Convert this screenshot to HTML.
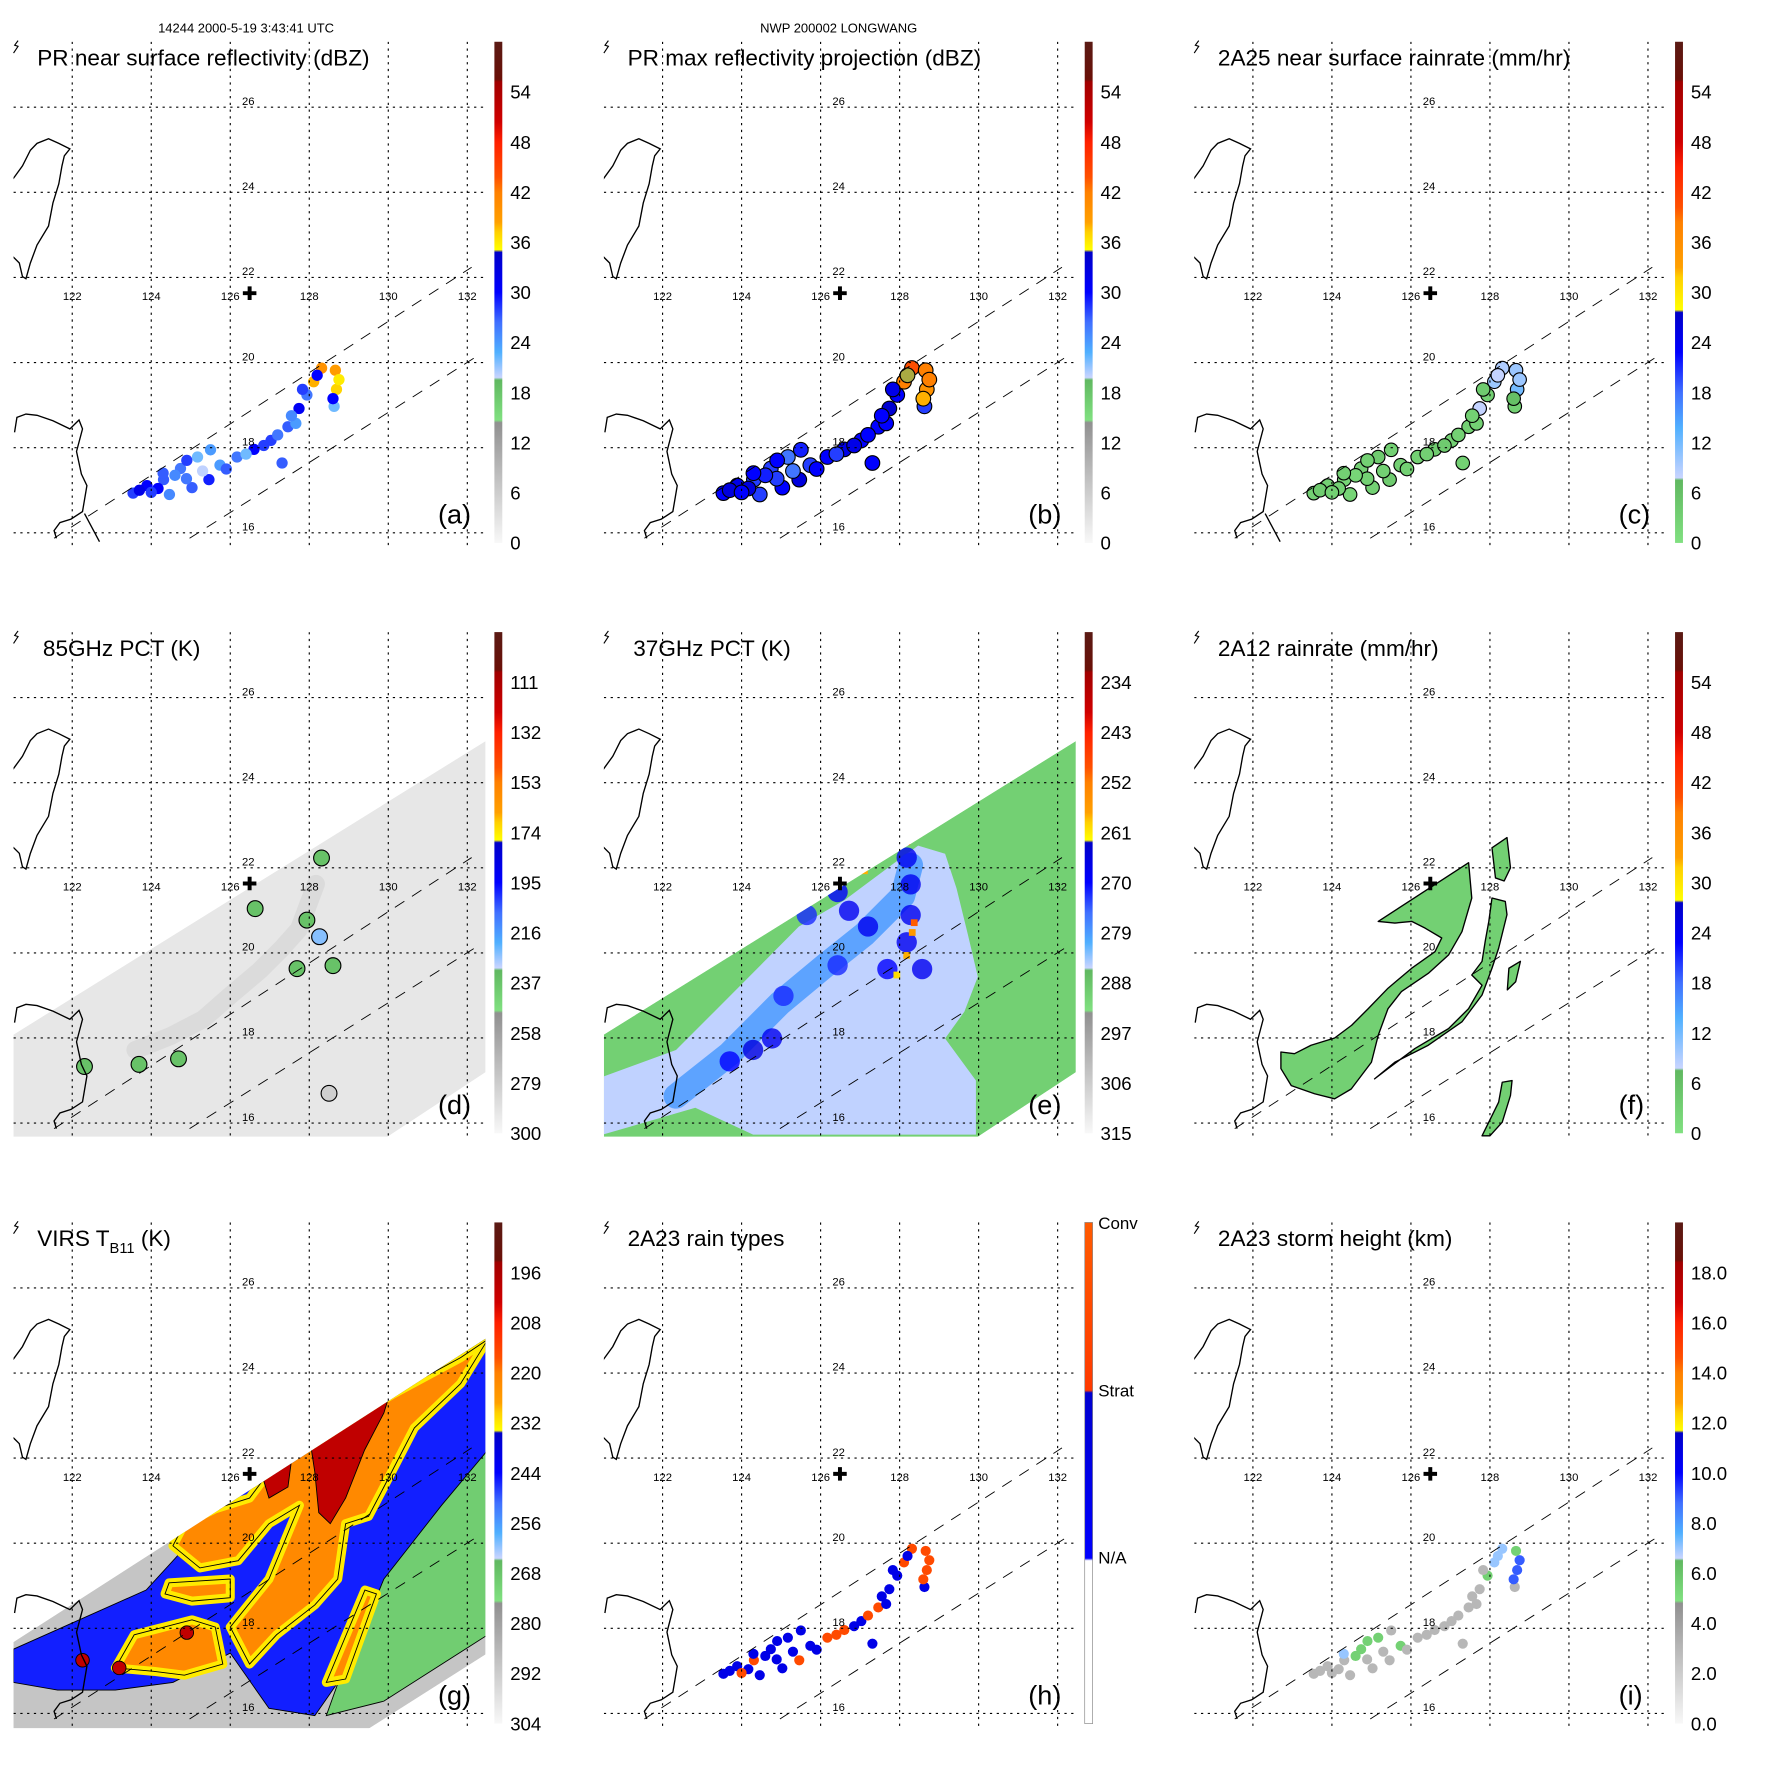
<!DOCTYPE html>
<html><head><meta charset="utf-8"><title>TRMM LONGWANG panels</title>
<style>
html,body{margin:0;padding:0;background:#fff;}
svg{display:block;font-family:"Liberation Sans",Arial,sans-serif;}
</style></head>
<body>
<svg id="fig" width="1771" height="1771" viewBox="0 0 1569 1569" xmlns="http://www.w3.org/2000/svg">
<defs id="defs"></defs>
<text x="218" y="29" font-size="11.5" text-anchor="middle">14244 2000-5-19 3:43:41 UTC</text>
<text x="743" y="29" font-size="11.5" text-anchor="middle">NWP 200002 LONGWANG</text>
</svg>
<script>
// ---------- data ----------
const bandLon=[123.54,123.89,124.31,124.74,125.17,124.46,125.03,125.46,125.74,126.17,126.60,127.03,127.46,127.74,127.94,128.11,128.31,128.66,128.69,128.63,127.83,124.17,124.89,127.66,127.31,123.70,124.00,124.60,125.30,125.90,126.40,126.85,127.20,127.55,128.20,128.75,128.60,124.9,124.3,125.5];
const bandLat=[16.93,17.11,17.25,17.51,17.78,16.90,17.06,17.25,17.59,17.78,17.96,18.17,18.49,18.92,19.24,19.55,19.87,19.82,19.37,18.97,19.37,17.04,17.27,18.57,17.64,17.00,16.95,17.35,17.45,17.50,17.85,18.05,18.30,18.75,19.70,19.60,19.15,17.7,17.4,17.95];
const aVals=[28,30,27,26,22,25,27,29,24,26,30,28,27,31,26,38,40,39,37,22,28,30,26,24,27,32,28,25,20,27,22,28,26,25,30,36,30,28,27,24];
const bVals=[30,32,28,28,26,28,30,33,28,30,32,30,30,34,30,42,44,42,40,28,32,33,28,30,30,33,30,29,26,30,28,32,30,30,35,42,38,30,30,29];
const cVals=[3,3,2,3,4,2,3,4,3,3,4,3,3,8,3,10,9,10,12,3,4,3,3,3,3,4,3,2,3,3,3,4,3,3,8,10,6,3,3,3];
const hVals=[1.5,1.5,2.5,1.5,1.5,1.5,1.5,2.5,1.5,2.5,2.5,1.5,2.5,1.5,1.5,2.5,2.5,2.5,2.5,1.5,1.5,1.5,1.5,1.5,1.5,1.5,2.5,1.5,1.5,1.5,2.5,1.5,2.5,1.5,1.5,2.5,2.5,1.5,1.5,1.5];
const iVals=[3,3,3,5.5,5.5,3,3,3,5.5,3,3,3,3,3,5.5,7,7,5.5,9,3,3,3,3,3,3,3,3,5.5,3,3,3,3,3,3,7,9,9,5.5,7,3];

const dStreakLon=[123.6,124.5,125.31,126.0,126.74,127.3,127.74,128.17];
const dStreakLat=[17.72,18.05,18.44,19.0,19.58,20.1,20.56,21.62];
const dBlobLon=[126.63,128.31,127.94,128.26,128.6,127.69,123.69,124.69,122.31,128.5];
const dBlobLat=[21.04,22.23,20.77,20.38,19.7,19.63,17.38,17.51,17.33,16.7];
const dBlobVal=[236,236,236,225,236,236,236,236,236,280];

const eLightLon=[120.49,122.34,123.31,124.48,125.45,126.62,127.79,128.47,129.15,129.44,129.73,129.98,129.64,129.15,129.93,129.93,124.29,122.83,120.49];
const eLightLat=[17.09,17.72,18.62,19.71,20.62,21.25,22.06,22.52,22.33,21.52,20.43,19.44,18.62,17.99,17.0,15.73,15.73,16.36,15.73];
const eBandLon=[122.34,123.7,124.96,126.13,127.1,128.08,128.28];
const eBandLat=[16.63,17.63,18.81,19.71,20.43,21.34,22.06];
const eBlobLon=[124.29,124.77,123.70,126.72,126.43,127.2,128.18,128.28,128.28,128.18,127.69,128.57,125.65,126.43,125.06];
const eBlobLat=[17.72,17.99,17.45,20.99,21.43,20.62,22.24,21.61,20.89,20.25,19.62,19.62,20.89,19.71,18.99];
const eBlobVal=[266,268,270,268,270,268,268,268,268,268,270,268,272,272,272];
const eHotLon=[128.18,127.11,128.37,128.32,128.18,127.93];
const eHotLat=[22.61,21.93,20.71,20.48,19.94,19.48];
const eHotVal=[250,258,250,256,258,260];

const fHookLon=[125.17,127.46,127.54,127.29,126.95,126.44,125.76,125.42,125.17,125.0,124.49,124.07,123.56,122.97,122.71,122.71,123.05,123.47,124.07,124.5,124.92,125.42,126.02,126.61,126.78,126.36,126.02,125.59];
const fHookLat=[20.74,22.12,21.29,20.5,19.95,19.52,19.09,18.69,18.06,17.43,16.8,16.57,16.69,16.88,17.28,17.67,17.63,17.83,18.0,18.3,18.69,19.17,19.64,20.03,20.35,20.58,20.74,20.7];
const fArcLon=[125.08,125.59,126.44,127.29,127.8,128.05,128.22,128.43,128.39,128.05,127.97,127.88,127.8,127.54,127.8,127.46,126.95,126.1,125.42];
const fArcLat=[17.04,17.43,17.83,18.38,19.01,19.64,20.11,20.9,21.21,21.29,20.74,20.27,19.8,19.48,19.24,18.69,18.22,17.75,17.28];
const fIsleLon=[128.05,128.43,128.52,128.36,128.14];
const fIsleLat=[22.47,22.71,22.0,21.69,21.76];
const fStripLon=[127.8,128.22,128.31,128.56,128.52,128.31,128.0];
const fStripLat=[15.7,16.49,16.96,17.0,16.65,16.02,15.7];
const fSmallLon=[128.48,128.77,128.65,128.44];
const fSmallLat=[19.64,19.8,19.32,19.13];
const fRainVal=[3,3,3,3,3];

const gGreenLon=[129.89,132.52,132.52,129.89,128.43,129.5];
const gGreenLat=[20.02,22.19,17.85,16.29,15.95,18.72];
const gBlueLon=[120.51,123.87,126.0,132.52,132.52,131.35,129.89,128.92,128.14,126.98,126.0,124.55,123.09,121.63,120.51];
const gBlueLat=[17.51,18.9,21.06,24.84,22.19,20.89,19.16,16.99,15.95,16.12,17.42,16.73,16.55,16.55,16.73];
const gO1Lon=[126.49,126.98,130.09,131.83,132.52,131.83,130.66,129.89,129.5,128.92,128.72,128.14,127.17,126.49,126.0,126.98,127.75,126.98,126.2,125.23,124.55,124.84,125.62];
const gO1Lat=[21.06,21.67,23.49,24.36,24.79,23.75,22.71,21.32,20.63,20.46,19.16,18.55,17.85,17.16,18.03,19.16,20.89,20.46,19.59,19.42,19.94,20.46,20.81];
const gO2Lon=[123.09,123.57,125.03,125.62,125.81,124.84,124.06];
const gO2Lat=[17.07,17.85,18.2,18.03,17.16,16.9,16.99];
const gO3Lon=[124.45,126.0,126.0,125.03,124.35];
const gO3Lat=[19.07,19.16,18.72,18.64,18.81];
const gO4Lon=[128.43,129.41,129.7,128.92];
const gO4Lat=[16.73,18.9,18.81,16.81];
const gR1Lon=[128.04,130.0,129.89,129.4,128.92,128.53,128.24,128.14];
const gR1Lat=[22.28,23.4,23.06,22.19,21.06,20.46,20.72,21.67];
const gR2Lon=[126.78,127.56,127.46,126.98];
const gR2Lat=[21.67,22.02,21.32,21.06];
const gSpotLon=[122.26,123.19,124.9];
const gSpotLat=[17.25,17.07,17.9];
const gLayerVal=[290,270,246,222,232,200];

const swathLon=[120.51,132.5,132.5,129.98,120.51];
const swathLatE=[18.08,25.0,17.22,15.68,15.68];
const swathGLon=[120.51,132.52,132.52,129.5,120.51];
const swathGLat=[17.68,24.84,17.42,15.64,15.64];

const taiwanLon=[120.49,120.74,120.94,121.11,121.4,121.66,121.94,121.8,121.74,121.66,121.51,121.4,121.11,120.94,120.83,120.74,120.66,120.49];
const taiwanLat=[24.30,24.62,24.99,25.15,25.26,25.15,25.02,24.86,24.62,24.2,23.75,23.21,22.76,22.34,21.97,22.02,22.34,22.5];
const luzonLon=[120.54,120.6,120.83,121.11,121.51,121.94,122.17,122.26,122.11,122.23,122.37,122.26,121.97,121.69,121.54,121.6];
const luzonLat=[18.36,18.71,18.79,18.76,18.63,18.44,18.65,18.44,17.91,17.38,17.11,16.5,16.32,16.24,16.05,15.87];
const lonTicks=[122,124,126,128,130,132];
const latTicks=[16,18,20,22,24,26];

// ---------- helpers ----------
const NS='http://www.w3.org/2000/svg';
const svg=document.getElementById('fig');
const defs=document.getElementById('defs');
function mk(tag,attrs,parent){const e=document.createElementNS(NS,tag);for(const k in attrs)e.setAttribute(k,attrs[k]);(parent||svg).appendChild(e);return e;}
const STD=[[0,'#5a1a14'],[0.075,'#6a1008'],[0.08,'#a00000'],[0.16,'#d00000'],[0.2,'#ff2000'],[0.27,'#ff5000'],[0.3,'#ff8000'],[0.36,'#ffa000'],[0.38,'#ffd000'],[0.415,'#ffff00'],[0.42,'#0000c8'],[0.5,'#0000ff'],[0.56,'#4070ff'],[0.62,'#50b0ff'],[0.67,'#c8d4ff'],[0.675,'#60b860'],[0.755,'#80e080'],[0.76,'#909090'],[1,'#f8f8f8']];
const RAIN=[[0,'#5a1a14'],[0.075,'#6a1008'],[0.08,'#a00000'],[0.2,'#d00000'],[0.25,'#ff2000'],[0.33,'#ff5000'],[0.36,'#ff8000'],[0.45,'#ffa000'],[0.47,'#ffd000'],[0.535,'#ffff00'],[0.54,'#0000c8'],[0.62,'#0000ff'],[0.7,'#4070ff'],[0.77,'#50b0ff'],[0.87,'#c8d4ff'],[0.875,'#60b860'],[1,'#80e080']];
const TYPE=[[0,'#ff5a00'],[0.335,'#ff3a00'],[0.34,'#0000d0'],[0.67,'#0000ff'],[0.675,'#ffffff'],[1,'#ffffff']];
function hex2(c){return [parseInt(c.substr(1,2),16),parseInt(c.substr(3,2),16),parseInt(c.substr(5,2),16)];}
function cmap(stops,f){f=Math.max(0,Math.min(1,f));for(let i=1;i<stops.length;i++){if(f<=stops[i][0]){const a=stops[i-1],b=stops[i];const t=(f-a[0])/((b[0]-a[0])||1);const A=hex2(a[1]),B=hex2(b[1]);return 'rgb('+A.map((v,k)=>Math.round(v+(B[k]-v)*t)).join(',')+')';}}return stops[stops.length-1][1];}

const panels=[
 {id:'a',ox:0,oy:0,title:'PR near surface reflectivity (dBZ)',tx:33,stops:STD,top:60,bot:0,labels:['54','48','42','36','30','24','18','12','6','0'],lv:[54,48,42,36,30,24,18,12,6,0],luzLine:true},
 {id:'b',ox:523,oy:0,title:'PR max reflectivity projection (dBZ)',tx:33,stops:STD,top:60,bot:0,labels:['54','48','42','36','30','24','18','12','6','0'],lv:[54,48,42,36,30,24,18,12,6,0]},
 {id:'c',ox:1046,oy:0,title:'2A25 near surface rainrate (mm/hr)',tx:33,stops:RAIN,top:60,bot:0,labels:['54','48','42','36','30','24','18','12','6','0'],lv:[54,48,42,36,30,24,18,12,6,0],luzLine:true},
 {id:'d',ox:0,oy:523,title:'85GHz PCT (K)',tx:38,stops:STD,top:90,bot:300,labels:['111','132','153','174','195','216','237','258','279','300'],lv:[111,132,153,174,195,216,237,258,279,300]},
 {id:'e',ox:523,oy:523,title:'37GHz PCT (K)',tx:38,stops:STD,top:225,bot:315,labels:['234','243','252','261','270','279','288','297','306','315'],lv:[234,243,252,261,270,279,288,297,306,315]},
 {id:'f',ox:1046,oy:523,title:'2A12 rainrate (mm/hr)',tx:33,stops:RAIN,top:60,bot:0,labels:['54','48','42','36','30','24','18','12','6','0'],lv:[54,48,42,36,30,24,18,12,6,0]},
 {id:'g',ox:0,oy:1046,title:'VIRS',tx:33,stops:STD,top:184,bot:304,labels:['196','208','220','232','244','256','268','280','292','304'],lv:[196,208,220,232,244,256,268,280,292,304]},
 {id:'h',ox:523,oy:1046,title:'2A23 rain types',tx:33,stops:TYPE,top:3,bot:0,labels:['Conv','Strat','N/A'],lv:[3,2,1]},
 {id:'i',ox:1046,oy:1046,title:'2A23 storm height (km)',tx:33,stops:STD,top:20,bot:0,labels:['18.0','16.0','14.0','12.0','10.0','8.0','6.0','4.0','2.0','0.0'],lv:[18,16,14,12,10,8,6,4,2,0]}
];
const BT=37,BH=444;
function frac(p,v){return (p.top-v)/(p.top-p.bot);}
function col(p,v){return cmap(p.stops,frac(p,v));}
function X(p,lon){return p.ox+64+(lon-122)*35;}
function Y(p,lat){return p.oy+95+(26-lat)*37.7;}
function pts(p,lons,lats){return lons.map((l,i)=>X(p,l).toFixed(1)+','+Y(p,lats[i]).toFixed(1)).join(' ');}

panels.forEach(p=>{
  const g=mk('g',{});
  
  
  const cp=mk('clipPath',{id:'clip-'+p.id},defs);
  mk('rect',{x:p.ox+12,y:p.oy+BT,width:418,height:448},cp);
  const map=mk('g',{'clip-path':'url(#clip-'+p.id+')'},g);
  
  
  const data=mk('g',{},map);

  if(p.id==='d'||p.id==='e'||p.id==='g'){
    const sc=mk('clipPath',{id:'swclip-'+p.id},defs);
    const sl=p.id==='g'?swathGLon:swathLon, sa=p.id==='g'?swathGLat:swathLatE;
    mk('polygon',{points:pts(p,sl,sa)},sc);
    const sw=mk('g',{'clip-path':'url(#swclip-'+p.id+')'},data);
    const base=mk('polygon',{points:pts(p,sl,sa),fill:col(p,p.id==='d'?292:p.id==='e'?290:gLayerVal[0])},sw);
    
    
    if(p.id==='d'){
      const s=mk('polyline',{points:pts(p,dStreakLon,dStreakLat),fill:'none',stroke:col(p,282),'stroke-width':16,'stroke-linecap':'round','stroke-linejoin':'round',opacity:0.6},sw);
      
      
      dBlobLon.forEach((l,i)=>{const c=mk('circle',{cx:X(p,l),cy:Y(p,dBlobLat[i]),r:7,fill:col(p,dBlobVal[i]),stroke:'#000','stroke-width':1},sw);
        
        });
    }
    if(p.id==='e'){
      const lb=mk('polygon',{points:pts(p,eLightLon,eLightLat),fill:col(p,285)},sw);
      
      
      const bd=mk('polyline',{points:pts(p,eBandLon,eBandLat),fill:'none',stroke:col(p,279),'stroke-width':22,'stroke-linecap':'round','stroke-linejoin':'round',opacity:0.85},sw);
      
      
      eBlobLon.forEach((l,i)=>{const c=mk('circle',{cx:X(p,l),cy:Y(p,eBlobLat[i]),r:9,fill:col(p,eBlobVal[i]),opacity:0.8},sw);
        
        });
      eHotLon.forEach((l,i)=>{const c=mk('rect',{x:X(p,l)-3,y:Y(p,eHotLat[i])-3,width:6,height:6,fill:col(p,eHotVal[i])},sw);
        
        });
    }
    if(p.id==='g'){
      const layers=[[gGreenLon,gGreenLat,gLayerVal[1],'virs-warm-cloud'],[gBlueLon,gBlueLat,gLayerVal[2],'virs-mid-cloud']];
      layers.forEach(L=>{const e=mk('polygon',{points:pts(p,L[0],L[1]),fill:col(p,L[2]),stroke:'#000','stroke-width':0.8},sw);
        
        });
      [[gO1Lon,gO1Lat],[gO2Lon,gO2Lat],[gO3Lon,gO3Lat],[gO4Lon,gO4Lat]].forEach(L=>{
        const e=mk('polygon',{points:pts(p,L[0],L[1]),fill:col(p,gLayerVal[3]),stroke:col(p,gLayerVal[4]),'stroke-width':8,'stroke-linejoin':'round'},sw);
        
        
        const o=mk('polygon',{points:pts(p,L[0],L[1]),fill:'none',stroke:'#000','stroke-width':0.8},sw);
        
        });
      [[gR1Lon,gR1Lat],[gR2Lon,gR2Lat]].forEach(L=>{const e=mk('polygon',{points:pts(p,L[0],L[1]),fill:col(p,gLayerVal[5]),stroke:'#000','stroke-width':0.8},sw);
        
        });
      gSpotLon.forEach((l,i)=>{const c=mk('circle',{cx:X(p,l),cy:Y(p,gSpotLat[i]),r:6,fill:col(p,gLayerVal[5]),stroke:'#000','stroke-width':0.8},sw);
        
        });
    }
  }
  if(p.id==='f'){
    [[fHookLon,fHookLat],[fArcLon,fArcLat],[fIsleLon,fIsleLat],[fStripLon,fStripLat],[fSmallLon,fSmallLat]].forEach((L,k)=>{
      const e=mk('polygon',{points:pts(p,L[0],L[1]),fill:col(p,fRainVal[k]),stroke:'#000','stroke-width':1.2,'stroke-linejoin':'round'},data);
      
      });
  }
  const vmap={a:aVals,b:bVals,c:cVals,h:hVals,i:iVals};
  if(vmap[p.id]){
    const vals=vmap[p.id];
    const r={a:5,b:6.5,c:6,h:4.5,i:4.5}[p.id];
    bandLon.forEach((l,k)=>{
      const c=mk('circle',{cx:X(p,l).toFixed(1),cy:Y(p,bandLat[k]).toFixed(1),r:r,fill:col(p,vals[k])},data);
      if(p.id==='b'||p.id==='c'){c.setAttribute('stroke','#000');c.setAttribute('stroke-width','1');}
      
      
    });
  }
  lonTicks.forEach(lo=>{const x=X(p,lo);const l=mk('line',{x1:x,y1:p.oy+BT,x2:x,y2:p.oy+485,stroke:'#000','stroke-width':1,'stroke-dasharray':'2,4'},map);
    
    
    const t=mk('text',{x:x,y:p.oy+266,'font-size':10,'text-anchor':'middle'},map);t.textContent=lo;
    
    });
  latTicks.forEach(la=>{const y=Y(p,la);const l=mk('line',{x1:p.ox+12,y1:y,x2:p.ox+430,y2:y,stroke:'#000','stroke-width':1,'stroke-dasharray':'2,4'},map);
    
    
    const t=mk('text',{x:p.ox+220,y:y-2,'font-size':10,'text-anchor':'middle'},map);t.textContent=la;
    
    });
  const tw=mk('polyline',{points:pts(p,taiwanLon,taiwanLat),fill:'none',stroke:'#000','stroke-width':1.2},map);
  
  
  const lz=mk('polyline',{points:pts(p,luzonLon,luzonLat),fill:'none',stroke:'#000','stroke-width':1.2},map);
  
  
  if(p.luzLine){const ll=mk('line',{x1:X(p,122.31),y1:Y(p,16.45),x2:X(p,122.69),y2:Y(p,15.79),stroke:'#000','stroke-width':1.2},map);
    
    }
  [[121.54,15.87,132.11,22.24],[124.97,15.87,132.23,20.14]].forEach(s=>{
    const l=mk('line',{x1:X(p,s[0]),y1:Y(p,s[1]),x2:X(p,s[2]),y2:Y(p,s[3]),stroke:'#000','stroke-width':0.8,'stroke-dasharray':'10,8'},map);
    
    });
  const cx=X(p,126.49),cy=Y(p,21.63);
  const cr=mk('path',{d:`M${cx-6} ${cy}H${cx+6}M${cx} ${cy-6}V${cy+6}`,stroke:'#000','stroke-width':3.5},map);
  
  
  const ic=mk('path',{d:`M${p.ox+16} ${p.oy+36}l-3 4l3 1l-4 6`,fill:'none',stroke:'#000','stroke-width':1},g);
  
  
  const t=mk('text',{x:p.ox+p.tx,y:p.oy+58,'font-size':20},g);
  if(p.id==='g'){t.innerHTML='VIRS T<tspan font-size="13" dy="6">B11</tspan><tspan dy="-6"> (K)</tspan>';}
  else t.textContent=p.title;
  
  
  const lt=mk('text',{x:p.ox+388,y:p.oy+464,'font-size':24},g);lt.textContent='('+p.id+')';
  
  
  const gid='grad-'+p.id;
  const lg=mk('linearGradient',{id:gid,x1:0,y1:0,x2:0,y2:1},defs);
  p.stops.forEach(s=>mk('stop',{offset:s[0],'stop-color':s[1]},lg));
  const cb=mk('rect',{x:p.ox+438,y:p.oy+BT,width:7,height:BH,fill:'url(#'+gid+')',stroke:p.id==='h'?'#888':'none','stroke-width':0.6},g);
  
  
  p.labels.forEach((lab,k)=>{
    const y=p.oy+BT+frac(p,p.lv[k])*BH+6;
    const tt=mk('text',{x:p.ox+(p.id==='h'?450:452),y:y,'font-size':p.id==='h'?15:16.5},g);
    tt.textContent=lab;
    
    
  });
});
</script>
</body></html>
